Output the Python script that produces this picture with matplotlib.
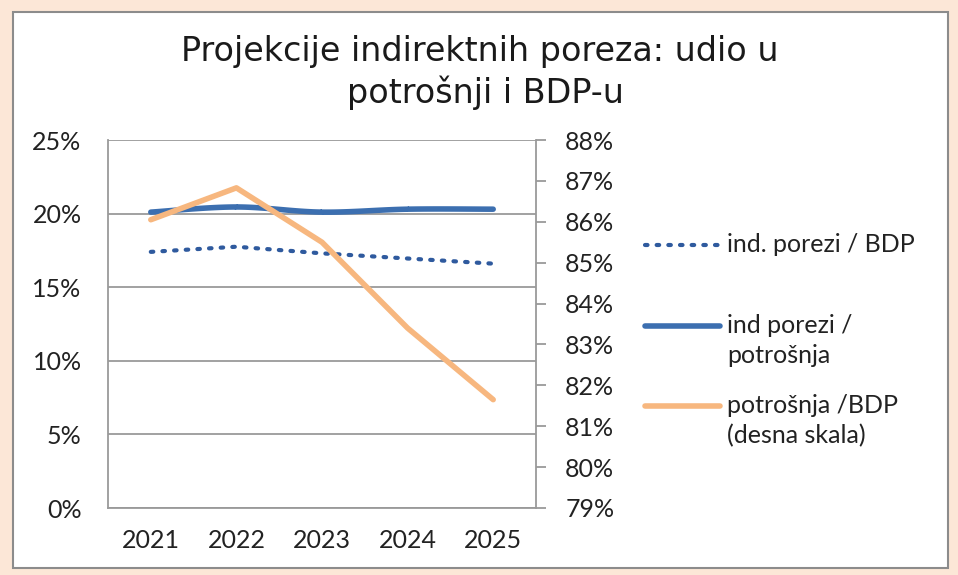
import matplotlib.pyplot as plt
from matplotlib.patches import Rectangle
from matplotlib.lines import Line2D
import numpy as np

years = ["2021", "2022", "2023", "2024", "2025"]
ind_bdp = [17.4, 17.75, 17.3, 16.95, 16.6]         # ind. porezi / BDP (left)
ind_potr = [20.1, 20.45, 20.1, 20.3, 20.3]         # ind porezi / potrosnja (left)
potr_bdp = [86.05, 86.83, 85.5, 83.4, 81.65]       # potrosnja / BDP (right)

plt.rcParams['font.family'] = ['Lato', 'DejaVu Sans']

fig = plt.figure(figsize=(9.58, 5.75), dpi=100)
fig.patch.set_facecolor('#fce7d7')
W, H = 958, 575
fig.patches.append(Rectangle((13/W, 1-568/H), (948-13)/W, (568-12)/H,
                             transform=fig.transFigure, facecolor='white',
                             edgecolor='#8c8c8c', linewidth=1.5, zorder=-5))

ax = fig.add_axes([108/W, 1-508/H, (536-108)/W, (508-140)/H])
ax.set_facecolor('white')
x = np.arange(len(years))

def smooth(xv, yv, n=30):
    # Catmull-Rom smoothing, like Excel's smoothed line
    xs, ys = [], []
    p = list(zip(xv, yv))
    p = [p[0]] + p + [p[-1]]
    for i in range(1, len(p) - 2):
        p0, p1, p2, p3 = map(np.array, (p[i-1], p[i], p[i+1], p[i+2]))
        t = np.linspace(0, 1, n)[:, None]
        c = 0.5 * ((2*p1) + (-p0 + p2)*t + (2*p0 - 5*p1 + 4*p2 - p3)*t**2 + (-p0 + 3*p1 - 3*p2 + p3)*t**3)
        xs.extend(c[:, 0]); ys.extend(c[:, 1])
    return np.array(xs), np.array(ys)

blue = '#3c6fb0'
dotblue = '#2f5a9e'
orange = '#f7b77f'
dots = (0, (0.6, 2.2))
tc = '#222222'

sx, sy = smooth(x, ind_potr)
ax.plot(sx, sy, color=blue, lw=4, solid_capstyle='round', zorder=3)
ax.plot(x, ind_bdp, color=dotblue, lw=3, linestyle=dots, dash_capstyle='round', zorder=3)

ax.set_xlim(-0.5, 4.5)
ax.set_ylim(0, 25)
ax.set_yticks([0, 5, 10, 15, 20, 25])
ax.set_yticklabels([f"{v}%" for v in [0, 5, 10, 15, 20, 25]], fontsize=18, color=tc)
ax.set_xticks(x)
ax.set_xticklabels(years, fontsize=18, color=tc)
ax.tick_params(axis='x', length=0, pad=15)
ax.tick_params(axis='y', length=0, pad=19)
ax.grid(axis='y', color='#9a9a9a', lw=1.3)
ax.set_axisbelow(True)
for s in ['left', 'bottom']:
    ax.spines[s].set_color('#9a9a9a')
    ax.spines[s].set_linewidth(1.3)
ax.spines['top'].set_visible(False)
ax.spines['right'].set_visible(False)

ax2 = ax.twinx()
ax2.plot(x, potr_bdp, color=orange, lw=4, solid_capstyle='round',
         solid_joinstyle='round', zorder=3)
ax2.set_ylim(79, 88)
ax2.set_yticks(range(79, 89))
ax2.set_yticklabels([f"{v}%" for v in range(79, 89)], fontsize=18, color=tc)
ax2.tick_params(axis='y', length=7, color='#9a9a9a', width=1.3, pad=14)
ax2.spines['right'].set_color('#9a9a9a')
ax2.spines['right'].set_linewidth(1.3)
for s in ['left', 'top', 'bottom']:
    ax2.spines[s].set_visible(False)

fig.text(480/W, 1-51/H, "Projekcije indirektnih poreza: udio u", ha='center', va='center',
         fontsize=24, family=['DejaVu Sans'], color='#1a1a1a')
fig.text(485/W, 1-93/H, "potrošnji i BDP-u", ha='center', va='center',
         fontsize=24, family=['DejaVu Sans'], color='#1a1a1a')

# legend, drawn by hand so the handle sits beside the first text line
entries = [
    (dict(color=dotblue, lw=3, linestyle=dots, dash_capstyle='round'), "ind. porezi / BDP", 245),
    (dict(color=blue, lw=4, solid_capstyle='round'), "ind porezi /\npotrošnja", 326),
    (dict(color=orange, lw=4, solid_capstyle='round'), "potrošnja /BDP\n(desna skala)", 406),
]
for style, lab, yy in entries:
    fig.add_artist(Line2D([645/W, 720/W], [1-yy/H, 1-yy/H], transform=fig.transFigure, **style))
    fig.text(727/W, 1-(yy-12)/H, lab, ha='left', va='top', fontsize=18,
             color=tc, linespacing=1.38)

fig.savefig("out.png", dpi=100, facecolor=fig.get_facecolor())
